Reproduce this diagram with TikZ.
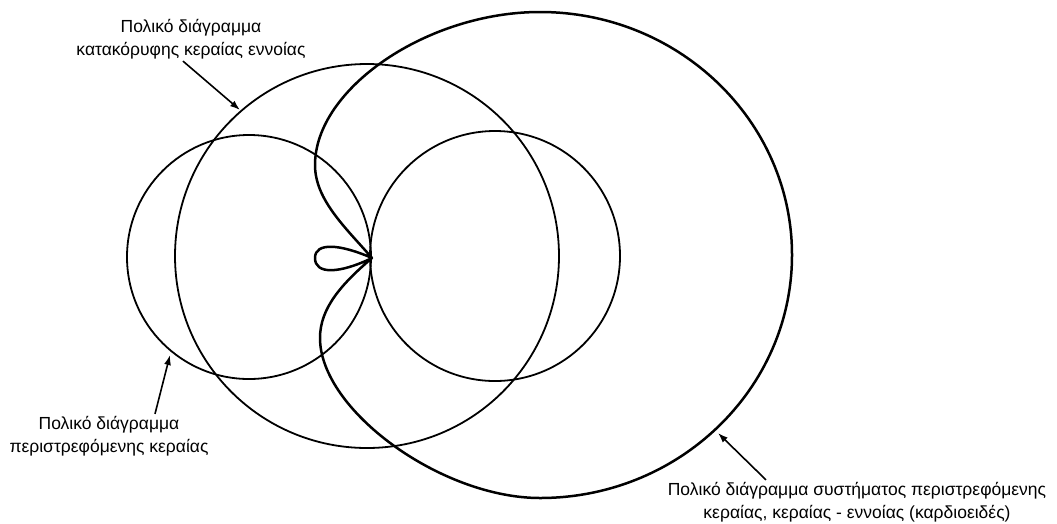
\documentclass[tikz,border=0pt]{standalone}
\usepackage{fontspec}
\setmainfont{Liberation Sans}
\usetikzlibrary{arrows.meta}
\tikzset{
    pattern/.style={draw=black, line width=1.8pt},
    cardioid/.style={draw=black, line width=2.5pt, line join=round},
    pointer/.style={-{Latex[length=10pt,width=7pt]}, line width=1.6pt},
    caption/.style={align=center, font=\fontsize{17.5}{23}\selectfont, inner sep=2pt}
}
\begin{document}
\begin{tikzpicture}[x=1pt, y=-1pt]
\useasboundingbox (0,0) rectangle (1057,523);
% sense antenna
\draw[pattern] (367,256) circle[radius=192pt];
% rotating loop
\draw[pattern] (249,257) circle[radius=122pt];
\draw[pattern] (495,256) circle[radius=125pt];
% combined pattern
\draw[cardioid] (372,258) .. controls (346,228) and (315,200) .. (315,165)
    .. controls (315,88.5) and (427.5,12) .. (540,12)
    .. controls (679,12) and (792,121) .. (792,255)
    .. controls (792,389) and (679,498) .. (540,498)
    .. controls (441,498) and (320,410) .. (320,338)
    .. controls (320,308) and (341.6,284) .. (372,258)
    .. controls (340,244) and (315,242) .. (315,258)
    .. controls (315,275) and (340,273.5) .. (372,258);
% labels
\node[caption] (senselbl) at (191,39) {Πολικό διάγραμμα\\κατακόρυφης κεραίας εννοίας};
\node[caption] (looplbl) at (109,436) {Πολικό διάγραμμα\\περιστρεφόμενης κεραίας};
\node[caption] (sumlbl) at (857,502) {Πολικό διάγραμμα συστήματος περιστρεφόμενης\\κεραίας, κεραίας - εννοίας (καρδιοειδές)};
\coordinate (sensept) at (240,110);
\coordinate (looppt) at (170,355);
\coordinate (sumpt) at (718,433);
\draw[pointer] (senselbl.250) -- (sensept);
\draw[pointer] ([xshift=46pt]looplbl.north) -- (looppt);
\draw[pointer] ([xshift=-91pt]sumlbl.north) -- (sumpt);
\end{tikzpicture}
\end{document}
